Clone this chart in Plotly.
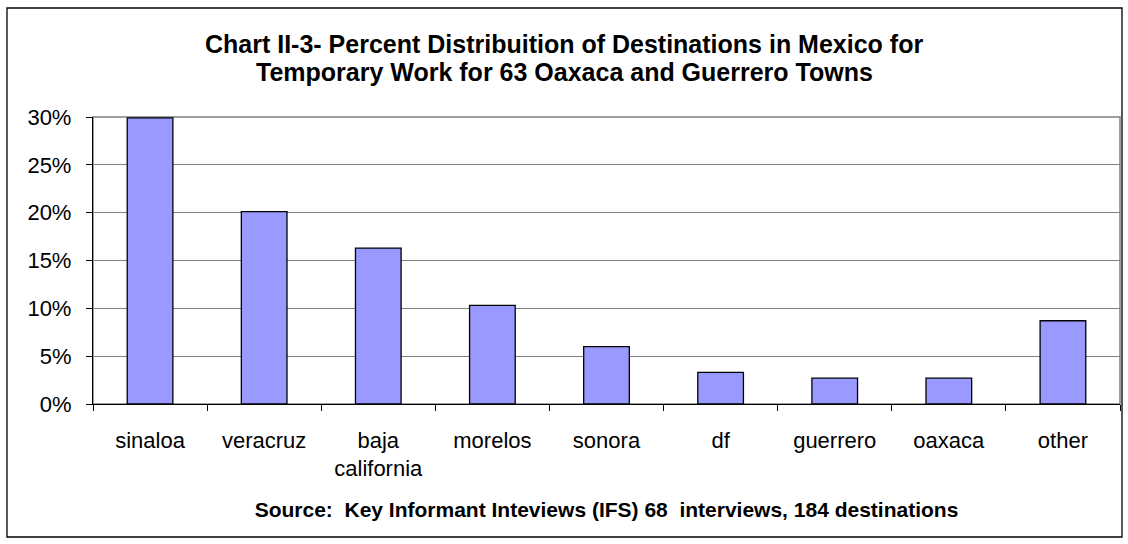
import plotly.graph_objects as go

states = ['sinaloa', 'veracruz', 'baja<br>california', 'morelos', 'sonora',
          'df', 'guerrero', 'oaxaca', 'other']
percent = [29.9, 20.1, 16.3, 10.3, 6.0, 3.3, 2.7, 2.7, 8.7]
y_ticks = [0, 5, 10, 15, 20, 25, 30]
y_labels = ['0%', '5%', '10%', '15%', '20%', '25%', '30%']
title_lines = ['Chart II-3- Percent Distribuition of Destinations in Mexico for',
               'Temporary Work for 63 Oaxaca and Guerrero Towns']

fig = go.Figure(data=[
    go.Bar(x=states, y=percent, marker=dict(color='#9999FF', line=dict(color='black', width=1.3)))
])

# plot area in pixels: left 93, right 1120, top 117, bottom 404
L, R, T, B = 93, 1120, 117, 404
def px(x): return (x - L) / (R - L)
def py(y): return (B - y) / (B - T)

fig.update_layout(
    width=1128, height=544,
    margin=dict(l=L, r=1128 - R, t=T, b=544 - B),
    plot_bgcolor='white', paper_bgcolor='white',
    font=dict(family='Liberation Sans, Arial', size=22, color='black'),
    bargap=0.6,
    showlegend=False,
    annotations=[
        dict(text='<b>%s</b>' % t, xref='paper', yref='paper', x=px(564), y=py(yy),
             xanchor='center', yanchor='middle', showarrow=False,
             font=dict(size=25))
        for t, yy in zip(title_lines, [44, 72])
    ],
    shapes=[
        dict(type='rect', xref='paper', yref='paper', x0=0, x1=1, y0=0, y1=1,
             line=dict(color='#808080', width=1.5), layer='below'),
        dict(type='rect', xref='paper', yref='paper', x0=px(7), x1=px(1122), y0=py(8), y1=py(537),
             line=dict(color='black', width=1.3)),
    ],
)
fig.update_xaxes(showline=True, linecolor='black', linewidth=1.3,
                 ticks='outside', tickson='boundaries', ticklen=6, tickcolor='black',
                 ticklabelstandoff=16,
                 title=dict(text='<b>Source:  Key Informant Inteviews (IFS) 68  interviews, 184 destinations</b>',
                            font=dict(size=21), standoff=22))
fig.update_yaxes(range=[0, 30], tickvals=y_ticks, ticktext=y_labels,
                 showgrid=True, gridcolor='#808080', gridwidth=1.3,
                 showline=True, linecolor='black', linewidth=1.3,
                 ticks='outside', ticklen=6, tickcolor='black', ticklabelstandoff=10,
                 zeroline=False)

fig.write_html('out.html', config={'displayModeBar': False},
               post_script="document.body.style.margin='0';")
